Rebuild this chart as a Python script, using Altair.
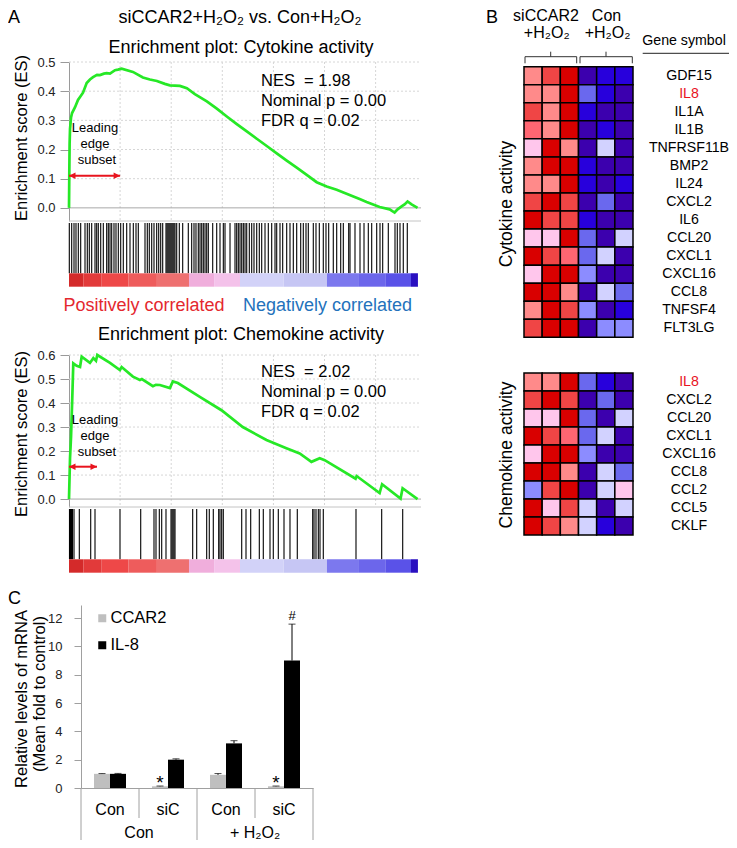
import altair as alt
import pandas as pd

FONT = "Liberation Sans"
RED = "#E8141E"
GREEN = "#26E826"
GRAY = "#9A9A9A"

# ---------------- Panel A data (GSEA) ----------------
RANK_MAX = 17220
rank_grid = [2500, 5000, 7500, 10000, 12500, 15000]
es_ticks_cyto = [0.0, 0.1, 0.2, 0.3, 0.4, 0.5]
es_ticks_chemo = [0.0, 0.1, 0.2, 0.3, 0.4, 0.5, 0.6]

cyto_es_rank = [0, 15, 30, 50, 100, 150, 295, 440, 540, 685, 865, 1025, 1175, 1370, 1515, 1710,
                1840, 2005, 2250, 2395, 2575, 3127, 3615, 3958, 4300, 4690, 4935, 5424, 5766,
                6157, 6743, 7231, 7720, 8208, 8697, 9186, 9674, 10163, 10651, 11140, 11629,
                12117, 12606, 13094, 13730, 14218, 14560, 15195, 15684, 15928, 16075, 16270,
                16417, 16563, 16759, 17052]
cyto_es_val = [0, 0.12, 0.22, 0.27, 0.31, 0.325, 0.345, 0.37, 0.38, 0.395, 0.428, 0.44, 0.448,
               0.456, 0.455, 0.46, 0.462, 0.46, 0.472, 0.474, 0.477, 0.466, 0.447, 0.44, 0.435,
               0.425, 0.42, 0.418, 0.41, 0.39, 0.365, 0.34, 0.313, 0.287, 0.262, 0.237, 0.212,
               0.187, 0.162, 0.138, 0.113, 0.088, 0.073, 0.062, 0.044, 0.03, 0.02, 0.003,
               -0.005, -0.016, -0.005, 0.005, 0.012, 0.022, 0.012, 0.0]
cyto_hits = [15, 132, 245, 342, 455, 572, 783, 895, 993, 1110, 1272, 1355, 1433, 1551, 1678,
             1844, 1923, 2006, 2089, 2201, 2299, 2412, 2529, 2656, 2823, 2984, 3146, 3278, 3390,
             3718, 3830, 3928, 4046, 4158, 4290, 4388, 4486, 4584, 4745, 4794, 4843, 4892, 4941,
             4990, 5039, 5088, 5137, 5186, 5269, 5396, 5562, 5836, 6002, 6115, 6212, 6325, 6409,
             6492, 6570, 6654, 6737, 6815, 7030, 7226, 7387, 7549, 7632, 7877, 8121, 8204, 8283,
             8366, 8449, 8528, 8611, 8694, 8821, 8938, 9050, 9183, 9310, 9427, 9589, 9750, 9916,
             10078, 10161, 10322, 10454, 10650, 10811, 10973, 11139, 11335, 11462, 11594, 11707,
             11951, 12083, 12245, 12440, 12572, 12704, 12929, 13096, 13292, 13419, 13683, 13747,
             13991, 14236, 14432, 14642, 14808, 15053, 15214, 15346, 15620, 15948, 16060, 16192,
             16353, 16549]

chemo_es_rank = [0, 50, 100, 160, 210, 375, 540, 620, 1025, 1190, 1320, 1385, 2005, 2490, 2575,
                 3127, 3470, 3565, 4105, 4250, 4445, 4935, 5080, 5325, 6400, 7460, 8500, 9660,
                 10635, 11285, 11860, 12265, 12510, 14020, 14070, 15195, 15317, 16220, 16320,
                 17052]
chemo_es_val = [0, 0.17, 0.26, 0.42, 0.565, 0.555, 0.55, 0.593, 0.567, 0.587, 0.576, 0.6, 0.567,
                0.537, 0.55, 0.51, 0.496, 0.5, 0.47, 0.476, 0.475, 0.462, 0.49, 0.483, 0.426,
                0.37, 0.30, 0.246, 0.212, 0.19, 0.155, 0.17, 0.162, 0.085, 0.096, 0.025, 0.062,
                0.002, 0.045, 0.0]
chemo_hits = [24, 73, 122, 171, 245, 504, 1062, 1272, 2495, 3508, 4158, 4256, 4418, 4535, 4745,
              4990, 5039, 5088, 5137, 5186, 6051, 6247, 6736, 6863, 7059, 7323, 7387, 7470, 7548,
              8449, 8659, 8889, 9310, 9505, 9833, 9994, 10239, 10518, 10811, 11168, 11922, 11986,
              12083, 12196, 12279, 12440, 14040, 15297, 16325]

leading_edge_end = [2500, 1370]  # cytokine, chemokine

cbar_start = [0, 700, 1600, 2900, 4300, 5870, 7100, 8365, 10500, 12620, 14185, 15500, 16730]
cbar_end = [700, 1600, 2900, 4300, 5870, 7100, 8365, 10500, 12620, 14185, 15500, 16730, 17070]
cbar_metric = [1.0, 0.92, 0.85, 0.75, 0.65, 0.3, 0.22, -0.12, -0.2, -0.55, -0.62, -0.7, -1.0]
cbar_dom = [-1.0, -0.7, -0.55, -0.2, -0.12, 0.22, 0.3, 0.65, 0.85, 1.0]
cbar_rng = ["#2A10C0", "#5A52E8", "#7C78EE", "#C6C6F4", "#D2D2F8", "#F4C2EA", "#F0AEDC",
            "#EE7070", "#EE4848", "#D42A2A"]

# ---------------- Panel B data (heatmaps) ----------------
samples = ["si1", "si2", "si3", "con1", "con2", "con3"]
LEVELS = [4, 3, 2, 1, 0, -1, -2, -3, -4, -5]
LEVEL_COLORS = ["#D90000", "#F04545", "#FF6672", "#FF8A8A", "#FFC6EC", "#D2D2FF", "#8C8CFF",
                "#6A68EE", "#2800DC", "#3C00AE"]
cyto_genes = ["GDF15", "IL8", "IL1A", "IL1B", "TNFRSF11B", "BMP2", "IL24", "CXCL2", "IL6",
              "CCL20", "CXCL1", "CXCL16", "CCL8", "TNFSF4", "FLT3LG"]
cyto_levels = [
    [1, 3, 4, -5, -4, -4],
    [1, 1, 4, -3, -4, -5],
    [3, 1, 4, -4, -5, -5],
    [2, 1, 4, -5, -4, -5],
    [0, 4, 1, -5, -1, -5],
    [1, 4, 4, -4, -5, -5],
    [1, 1, 4, -4, -5, -4],
    [3, 4, 3, -5, -3, -5],
    [4, 3, 3, -4, -5, -5],
    [0, 0, 4, -3, -5, -1],
    [4, 3, 2, -3, -1, -5],
    [0, 4, 4, -2, -5, -5],
    [4, 4, 1, -5, -1, -3],
    [1, 4, 3, -2, -5, -4],
    [3, 4, 4, -5, -2, -2],
]
chemo_genes = ["IL8", "CXCL2", "CCL20", "CXCL1", "CXCL16", "CCL8", "CCL2", "CCL5", "CKLF"]
chemo_levels = [
    [1, 1, 4, -3, -4, -5],
    [3, 4, 3, -5, -3, -5],
    [0, 0, 4, -3, -5, -1],
    [4, 3, 2, -3, -1, -5],
    [0, 4, 4, -2, -5, -5],
    [4, 4, 1, -5, -1, -3],
    [-2, 3, 4, -5, -1, 0],
    [4, 0, 3, -1, -5, -1],
    [4, 3, 1, -1, -4, -5],
]

# ---------------- Panel C data (qPCR) ----------------
c_groups = ["Con|Con", "Con|siC", "H2O2|Con", "H2O2|siC"]
c_series = ["CCAR2", "IL-8"]
ccar2_mean = [1.0, 0.12, 0.93, 0.12]
ccar2_err = [0.02, 0.02, 0.09, 0.02]
il8_mean = [1.0, 2.0, 3.15, 9.0]
il8_err = [0.03, 0.06, 0.19, 2.57]
c_yticks = [0, 2, 4, 6, 8, 10, 12]
c_marks = [("Con|siC", "CCAR2", "*"), ("H2O2|siC", "CCAR2", "*"), ("H2O2|siC", "IL-8", "#")]
c_group_labels = ["Con", "+ H\u2082O\u2082"]


# ---------------- helpers ----------------
def one():
    return pd.DataFrame({"k": [0]})


def txt(s, x, y, size, color="black", align="center", baseline="alphabetic", angle=0):
    return alt.Chart(pd.DataFrame({"t": [s]})).mark_text(
        align=align, baseline=baseline, fontSize=size, color=color, angle=angle, font=FONT
    ).encode(text="t:N", x=alt.value(x), y=alt.value(y))


def hline(x1, x2, y, color="#333333", width=1.0):
    return alt.Chart(one()).mark_rule(color=color, strokeWidth=width).encode(
        x=alt.value(x1), x2=alt.value(x2), y=alt.value(y))


def vline(x, y1, y2, color="#333333", width=1.0):
    return alt.Chart(one()).mark_rule(color=color, strokeWidth=width).encode(
        x=alt.value(x), y=alt.value(y1), y2=alt.value(y2))


def xs():
    return alt.Scale(domain=[0, RANK_MAX], range=[61, 413], nice=False, zero=False)


def es_layers(es_rank, es_val, hits, ticks, ymin, ymax, y_top, y_bot, hit_bot, bar_bot,
              arrow_y, lead_end):
    def ys():
        return alt.Scale(domain=[ymin, ymax], range=[y_bot, y_top], nice=False, zero=False)

    L = []
    L.append(alt.Chart(pd.DataFrame({"r": rank_grid})).mark_rule(
        color="#D6D6D6", strokeDash=[2, 2], strokeWidth=1).encode(
        x=alt.X("r:Q", scale=xs(), axis=None), y=alt.value(y_top), y2=alt.value(y_bot)))
    L.append(alt.Chart(pd.DataFrame({"t": [t for t in ticks if t > 0]})).mark_rule(
        color="#D6D6D6", strokeDash=[2, 2], strokeWidth=1).encode(
        y=alt.Y("t:Q", scale=ys(), axis=None), x=alt.value(61), x2=alt.value(413)))
    L.append(alt.Chart(pd.DataFrame({"t": [0.0]})).mark_rule(
        color="#A8A8A8", strokeWidth=1).encode(
        y=alt.Y("t:Q", scale=ys(), axis=None), x=alt.value(61), x2=alt.value(413)))
    L.append(hline(61, 413, y_bot, color="#C4C4C4"))
    L.append(alt.Chart(pd.DataFrame({"r": hits})).mark_rule(
        color="black", strokeWidth=1.1).encode(
        x=alt.X("r:Q", scale=xs(), axis=None), y=alt.value(y_bot + 2), y2=alt.value(hit_bot)))
    cb = pd.DataFrame({"s": cbar_start, "e": cbar_end, "m": cbar_metric})
    L.append(alt.Chart(cb).mark_rect().encode(
        x=alt.X("s:Q", scale=xs(), axis=None), x2="e:Q",
        y=alt.value(hit_bot), y2=alt.value(bar_bot),
        color=alt.Color("m:Q", scale=alt.Scale(domain=cbar_dom, range=cbar_rng,
                                               interpolate="rgb"), legend=None)))
    es = pd.DataFrame({"r": es_rank, "es": es_val})
    L.append(alt.Chart(es).mark_line(color=GREEN, strokeWidth=2.7).encode(
        x=alt.X("r:Q", scale=xs(), axis=None),
        y=alt.Y("es:Q", scale=ys(), axis=alt.Axis(
            orient="left", offset=-61, values=ticks, format=".1f", grid=False, tickSize=9,
            labelPadding=5, domainColor=GRAY, tickColor=GRAY, labelColor="#222222",
            labelFontSize=13, labelFont=FONT, title=None))))
    ar = pd.DataFrame({"a": [0], "b": [lead_end]})
    L.append(alt.Chart(ar).mark_rule(color=RED, strokeWidth=2).encode(
        x=alt.X("a:Q", scale=xs(), axis=None), x2="b:Q", y=alt.value(arrow_y)))
    L.append(alt.Chart(pd.DataFrame({"r": [0]})).mark_point(
        shape="M0,0L2,-1L2,1Z", filled=True, color=RED, opacity=1, size=42, strokeWidth=0).encode(
        x=alt.X("r:Q", scale=xs(), axis=None), y=alt.value(arrow_y)))
    L.append(alt.Chart(pd.DataFrame({"r": [lead_end]})).mark_point(
        shape="M0,0L-2,-1L-2,1Z", filled=True, color=RED, opacity=1, size=42, strokeWidth=0).encode(
        x=alt.X("r:Q", scale=xs(), axis=None), y=alt.value(arrow_y)))
    return L


def heat_layers(genes, levels, y0, y1):
    rows = [{"gene": g, "sample": s, "lvl": v}
            for g, row in zip(genes, levels) for s, v in zip(samples, row)]
    df = pd.DataFrame(rows)

    def xsc():
        return alt.Scale(type="band", domain=samples, range=[516, 625], paddingInner=0,
                         paddingOuter=0)

    def ysc():
        return alt.Scale(type="band", domain=genes, range=[y0, y1], paddingInner=0,
                         paddingOuter=0)

    rect = alt.Chart(df).mark_rect(stroke="black", strokeWidth=1.5).encode(
        x=alt.X("sample:N", scale=xsc(), axis=None),
        y=alt.Y("gene:N", scale=ysc(), axis=None),
        color=alt.Color("lvl:O", scale=alt.Scale(domain=LEVELS, range=LEVEL_COLORS),
                        legend=None))
    lab = alt.Chart(pd.DataFrame({"gene": genes})).mark_text(
        fontSize=14.2, baseline="middle", align="center", font=FONT).encode(
        y=alt.Y("gene:N", scale=ysc(), axis=None), x=alt.value(681), text="gene:N",
        color=alt.condition(alt.datum.gene == "IL8", alt.value(RED), alt.value("black")))
    return [rect, lab]


layers = []
NB = "\u00a0"

# ---------- Panel A ----------
layers += es_layers(cyto_es_rank, cyto_es_val, cyto_hits, es_ticks_cyto, -0.045, 0.5,
                    54, 213, 265.3, 278.7, 167.7, leading_edge_end[0])
layers += es_layers(chemo_es_rank, chemo_es_val, chemo_hits, es_ticks_chemo, -0.033, 0.6,
                    347, 499, 551.3, 564.7, 458.7, leading_edge_end[1])
H2O2 = "H\u2082O\u2082"
layers += [
    txt("A", 0, 14.5, 18, align="left"),
    txt("siCCAR2+" + H2O2 + " vs. Con+" + H2O2, 232, 14.5, 18),
    txt("Enrichment plot: Cytokine activity", 233, 45, 18),
    txt("Enrichment score (ES)", 19, 130, 16.5, angle=270),
    txt("NES" + NB + " = 1.98", 253, 78, 16.5, align="left"),
    txt("Nominal p = 0.00", 253, 97.5, 16.5, align="left"),
    txt("FDR q = 0.02", 253, 118, 16.5, align="left"),
    txt("Leading", 87, 124, 13),
    txt("edge", 87, 140, 13),
    txt("subset", 89, 156, 13),
    txt("Positively correlated", 136, 303, 18, color="#E4282E"),
    txt("Negatively correlated", 319.5, 303, 18, color="#2472BC"),
    txt("Enrichment plot: Chemokine activity", 233, 331.5, 18),
    txt("Enrichment score (ES)", 19, 426, 16.5, angle=270),
    txt("NES" + NB + " = 2.02", 253, 368.7, 16.5, align="left"),
    txt("Nominal p = 0.00", 253, 388.7, 16.5, align="left"),
    txt("FDR q = 0.02", 253, 408.7, 16.5, align="left"),
    txt("Leading", 87, 416.3, 13),
    txt("edge", 87, 432, 13),
    txt("subset", 89, 447.7, 13),
]

# ---------- Panel B ----------
layers += heat_layers(cyto_genes, cyto_levels, 58.7, 329.3)
layers += heat_layers(chemo_genes, chemo_levels, 365, 527)
layers += [
    txt("B", 478, 14.5, 18, align="left"),
    txt("siCCAR2", 538, 13, 16),
    txt("+" + H2O2, 538.7, 30, 16),
    txt("Con", 598.5, 13, 16),
    txt("+" + H2O2, 599.6, 30, 16),
    txt("Gene symbol", 676, 37, 14.2),
    hline(634.7, 721, 45.3, color="#222222"),
    hline(517, 568.7, 48.7), vline(517, 48.7, 55.3), vline(568.7, 48.7, 55.3),
    vline(542.7, 43.7, 48.7),
    hline(572, 624.3, 48.7), vline(572, 48.7, 55.3), vline(624.3, 48.7, 55.3),
    vline(598, 43.7, 48.7),
    txt("Cytokine activity", 504, 196, 17.5, angle=270),
    txt("Chemokine activity", 504, 447, 17.5, angle=270),
]


# ---------- Panel C ----------
def xC():
    return alt.Scale(type="band", domain=c_groups, range=[73, 305], paddingInner=0,
                     paddingOuter=0)


def xoC():
    return alt.Scale(type="band", domain=c_series, paddingInner=0, paddingOuter=0.8125)


def yC():
    return alt.Scale(domain=[0, 12.92], range=[780, 597], nice=False, zero=True)


crows = []
for g, m, e in zip(c_groups, ccar2_mean, ccar2_err):
    crows.append({"grp": g, "series": "CCAR2", "mean": m, "top": m + e})
for g, m, e in zip(c_groups, il8_mean, il8_err):
    crows.append({"grp": g, "series": "IL-8", "mean": m, "top": m + e})
cdf = pd.DataFrame(crows)

bars = alt.Chart(cdf).mark_bar().encode(
    x=alt.X("grp:N", scale=xC(), axis=alt.Axis(
        orient="bottom", offset=-52, ticks=False, domainColor="#A0A0A0", labelFontSize=16,
        labelFont=FONT, labelColor="black", labelPadding=13, labelAngle=0, title=None,
        labelExpr="split(datum.label, '|')[1]")),
    xOffset=alt.XOffset("series:N", scale=xoC()),
    y=alt.Y("mean:Q", scale=yC(), axis=alt.Axis(
        orient="left", offset=-73, values=c_yticks, grid=False, tickSize=7, labelPadding=12,
        domainColor="#A0A0A0", tickColor="#A0A0A0", labelColor="#222222", labelFontSize=13,
        labelFont=FONT, title=None)),
    color=alt.Color("series:N", scale=alt.Scale(domain=c_series, range=["#BFBFBF", "#000000"]),
                    legend=alt.Legend(orient="none", legendX=86, legendY=602, title=None,
                                      symbolType="square", symbolSize=64, symbolStrokeWidth=0,
                                      labelFontSize=16.5, labelFont=FONT, labelColor="black",
                                      rowPadding=10, labelOffset=0, padding=0,
                                      direction="vertical")))
err = alt.Chart(cdf).mark_rule(color="black", strokeWidth=1).encode(
    x=alt.X("grp:N", scale=xC(), axis=None), xOffset=alt.XOffset("series:N", scale=xoC()),
    y=alt.Y("mean:Q", scale=yC(), axis=None), y2="top:Q")
caps = alt.Chart(cdf).mark_tick(color="black", thickness=1, size=7, orient="horizontal").encode(
    x=alt.X("grp:N", scale=xC(), axis=None), xOffset=alt.XOffset("series:N", scale=xoC()),
    y=alt.Y("top:Q", scale=yC(), axis=None))

mk = pd.DataFrame([{"grp": g, "series": s, "sym": t,
                    "top": cdf[(cdf.grp == g) & (cdf.series == s)]["top"].iloc[0]}
                   for g, s, t in c_marks])
stars = alt.Chart(mk[mk.sym == "*"]).mark_text(fontSize=19, baseline="alphabetic", dy=3,
                                               font=FONT).encode(
    x=alt.X("grp:N", scale=xC(), axis=None), xOffset=alt.XOffset("series:N", scale=xoC()),
    y=alt.Y("top:Q", scale=yC(), axis=None), text="sym:N")
hashm = alt.Chart(mk[mk.sym == "#"]).mark_text(fontSize=13, baseline="alphabetic", dy=-4,
                                               font=FONT).encode(
    x=alt.X("grp:N", scale=xC(), axis=None), xOffset=alt.XOffset("series:N", scale=xoC()),
    y=alt.Y("top:Q", scale=yC(), axis=None), text="sym:N")

sep_short = alt.Chart(pd.DataFrame({"grp": ["Con|siC", "H2O2|siC"]})).mark_rule(
    color="#A0A0A0", strokeWidth=1).encode(
    x=alt.X("grp:N", scale=xC(), axis=None, bandPosition=0),
    y=alt.value(780), y2=alt.value(810))
sep_long = alt.Chart(pd.DataFrame({"grp": ["Con|Con", "H2O2|Con"]})).mark_rule(
    color="#A0A0A0", strokeWidth=1).encode(
    x=alt.X("grp:N", scale=xC(), axis=None, bandPosition=0),
    y=alt.value(780), y2=alt.value(832))
sep_end = alt.Chart(pd.DataFrame({"grp": ["H2O2|siC"]})).mark_rule(
    color="#A0A0A0", strokeWidth=1).encode(
    x=alt.X("grp:N", scale=xC(), axis=None, bandPosition=1),
    y=alt.value(780), y2=alt.value(832))
grp_lab = alt.Chart(pd.DataFrame({"grp": ["Con|siC", "H2O2|siC"], "lab": c_group_labels})).mark_text(
    fontSize=16, baseline="alphabetic", font=FONT).encode(
    x=alt.X("grp:N", scale=xC(), axis=None, bandPosition=0),
    y=alt.value(830), text="lab:N")

layers += [bars, err, caps, stars, hashm, sep_short, sep_long, sep_end, grp_lab,
           txt("C", 0, 596, 18, align="left"),
           txt("Relative levels of mRNA", 19, 691, 16.5, angle=270),
           txt("(Mean fold to control)", 37, 686, 16.5, angle=270)]

chart = alt.layer(*layers).resolve_scale(
    x="independent", y="independent", color="independent", xOffset="independent"
).properties(
    width=721, height=832, padding=0, autosize=alt.AutoSizeParams(type="none")
).configure_view(stroke=None).configure_text(font=FONT)

chart.save("out.html", embed_options={"renderer": "svg", "actions": False})
